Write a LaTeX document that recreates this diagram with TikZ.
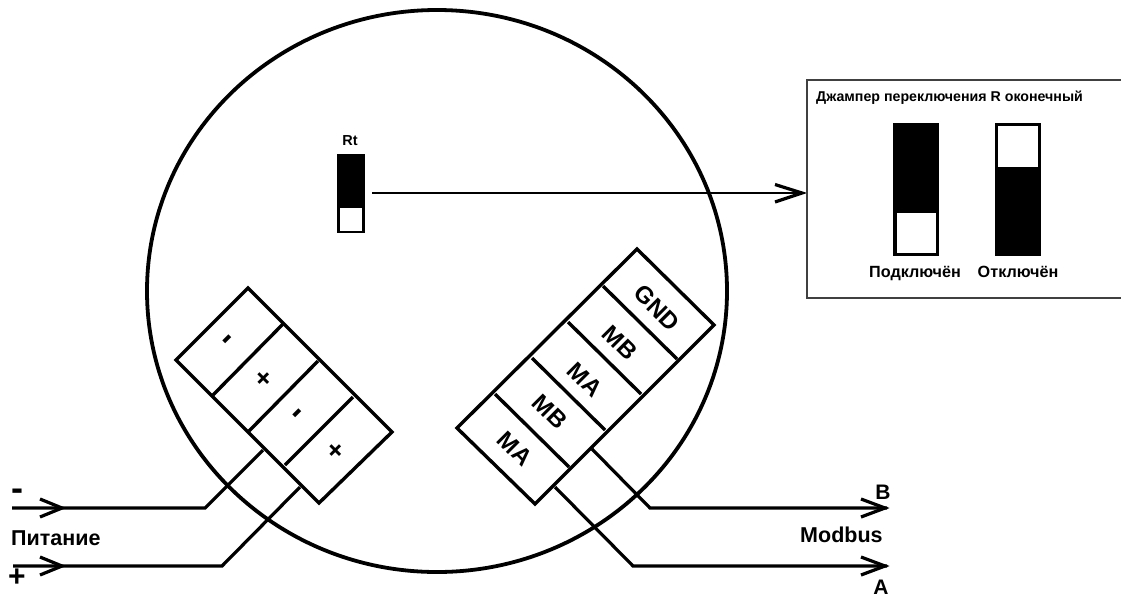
\documentclass[tikz,border=0pt]{standalone}
\usepackage{fontspec}
\setmainfont{Liberation Sans}
\tikzset{
  x=1pt,y=-1pt,
  box line/.style={draw=black,line width=3.4pt,line join=miter},
  wire line/.style={draw=black,line width=3.2pt,line join=miter},
  lab/.style={inner sep=0pt,font=\bfseries\fontsize{#1}{#1}\selectfont,text=black},
  lab/.default=18,
  jump/.style={fill=black,draw=none},
  hole/.style={fill=white,draw=none},
  panel line/.style={draw=black!75,line width=1.4pt},
}
\begin{document}
\begin{tikzpicture}
\useasboundingbox (0,0) rectangle (1121,598);
\fill[white] (0,0) rectangle (1121,598);
% enclosure
\draw[draw=black,line width=3.8pt] (437,291) ellipse [x radius=290,y radius=281];
% left terminal
\coordinate (lt) at (248,288); \coordinate (ll) at (176,360);
\coordinate (lb) at (319,503); \coordinate (lr) at (392,432);
\draw[box line] (lt)--(ll)--(lb)--(lr)--cycle;
\draw[box line] (283,324)--(213,395);
\draw[box line] (318,361)--(249,431);
\draw[box line] (353,397)--(285,465);
\node[lab=34,rotate=45] (l1) at (230,342) {-};
\node[lab=27,rotate=45] (l2) at (264.5,379) {+};
\node[lab=34,rotate=45] (l3) at (300,416) {-};
\node[lab=27,rotate=45] (l4) at (336,451) {+};
% right terminal
\coordinate (rt) at (637,249); \coordinate (rr) at (714,325);
\coordinate (rb) at (535,504); \coordinate (rl) at (457,428);
\draw[box line] (rt)--(rr)--(rb)--(rl)--cycle;
\draw[box line] (603,286)--(677,359);
\draw[box line] (568,322)--(641,394);
\draw[box line] (532,358)--(605,430);
\draw[box line] (495,394)--(569,467);
\node[lab=24,rotate=-45] (r5) at (657,308) {GND};
\node[lab=24,rotate=-45] (r4) at (620,343) {MB};
\node[lab=24,rotate=-45] (r3) at (585,380) {MA};
\node[lab=24,rotate=-45] (r2) at (550,412) {MB};
\node[lab=24,rotate=-45] (r1) at (515,449) {MA};
% wires
\coordinate (wm0) at (263,450); \coordinate (wm1) at (205,508); \coordinate (wm2) at (12,508);
\coordinate (wp0) at (300,487); \coordinate (wp1) at (222,566); \coordinate (wp2) at (13,566);
\coordinate (wb0) at (592,449); \coordinate (wb1) at (650,508); \coordinate (wb2) at (887,508);
\coordinate (wa0) at (555,487); \coordinate (wa1) at (633,566); \coordinate (wa2) at (887,566);
\draw[wire line] (wm0)--(wm1)--(wm2);
\draw[wire line] (wp0)--(wp1)--(wp2);
\draw[wire line] (wb0)--(wb1)--(wb2);
\draw[wire line] (wa0)--(wa1)--(wa2);
% arrow barbs
\draw[wire line] (40,499)--(62,508)--(40,517);
\draw[wire line] (40,557)--(62,566)--(40,575);
\draw[wire line] (861,499)--(885,508)--(861,517);
\draw[wire line] (861,557)--(885,566)--(861,575);
% wire labels
\node[lab=36] (minus) at (17,495) {-};
\node[lab=30] (plus) at (17,578) {+};
\node[lab=21.5,anchor=west] (pit) at (11,538) {Питание};
\node[lab=21.5,anchor=west] (mod) at (800,535) {Modbus};
\node[lab=21] (b) at (883,492) {B};
\node[lab=21] (a) at (881,587.5) {A};
% Rt jumper
\fill[jump] (337,154) rectangle (365,233);
\fill[hole] (340,208) rectangle (362,231);
\node[lab=14.5] (rt label) at (350,141) {Rt};
\coordinate (ar0) at (372,193); \coordinate (ar1) at (803,193);
\draw[draw=black,line width=2.4pt] (ar0)--(ar1);
\draw[wire line] (775,184.5)--(802,193)--(775,202);
% panel
\draw[panel line] (1121,80)--(807,80)--(807,298)--(1121,298);
\node[lab=14.2,anchor=west] (title) at (816,98) {Джампер переключения R оконечный};
\fill[jump] (893,123) rectangle (939,256);
\fill[hole] (897,213) rectangle (936,253);
\fill[jump] (995,123) rectangle (1041,256);
\fill[hole] (998,125.5) rectangle (1038,167);
\node[lab=16.2,anchor=base] (on) at (915,277) {Подключён};
\node[lab=16.2,anchor=base] (off) at (1018,277) {Отключён};
\end{tikzpicture}
\end{document}
